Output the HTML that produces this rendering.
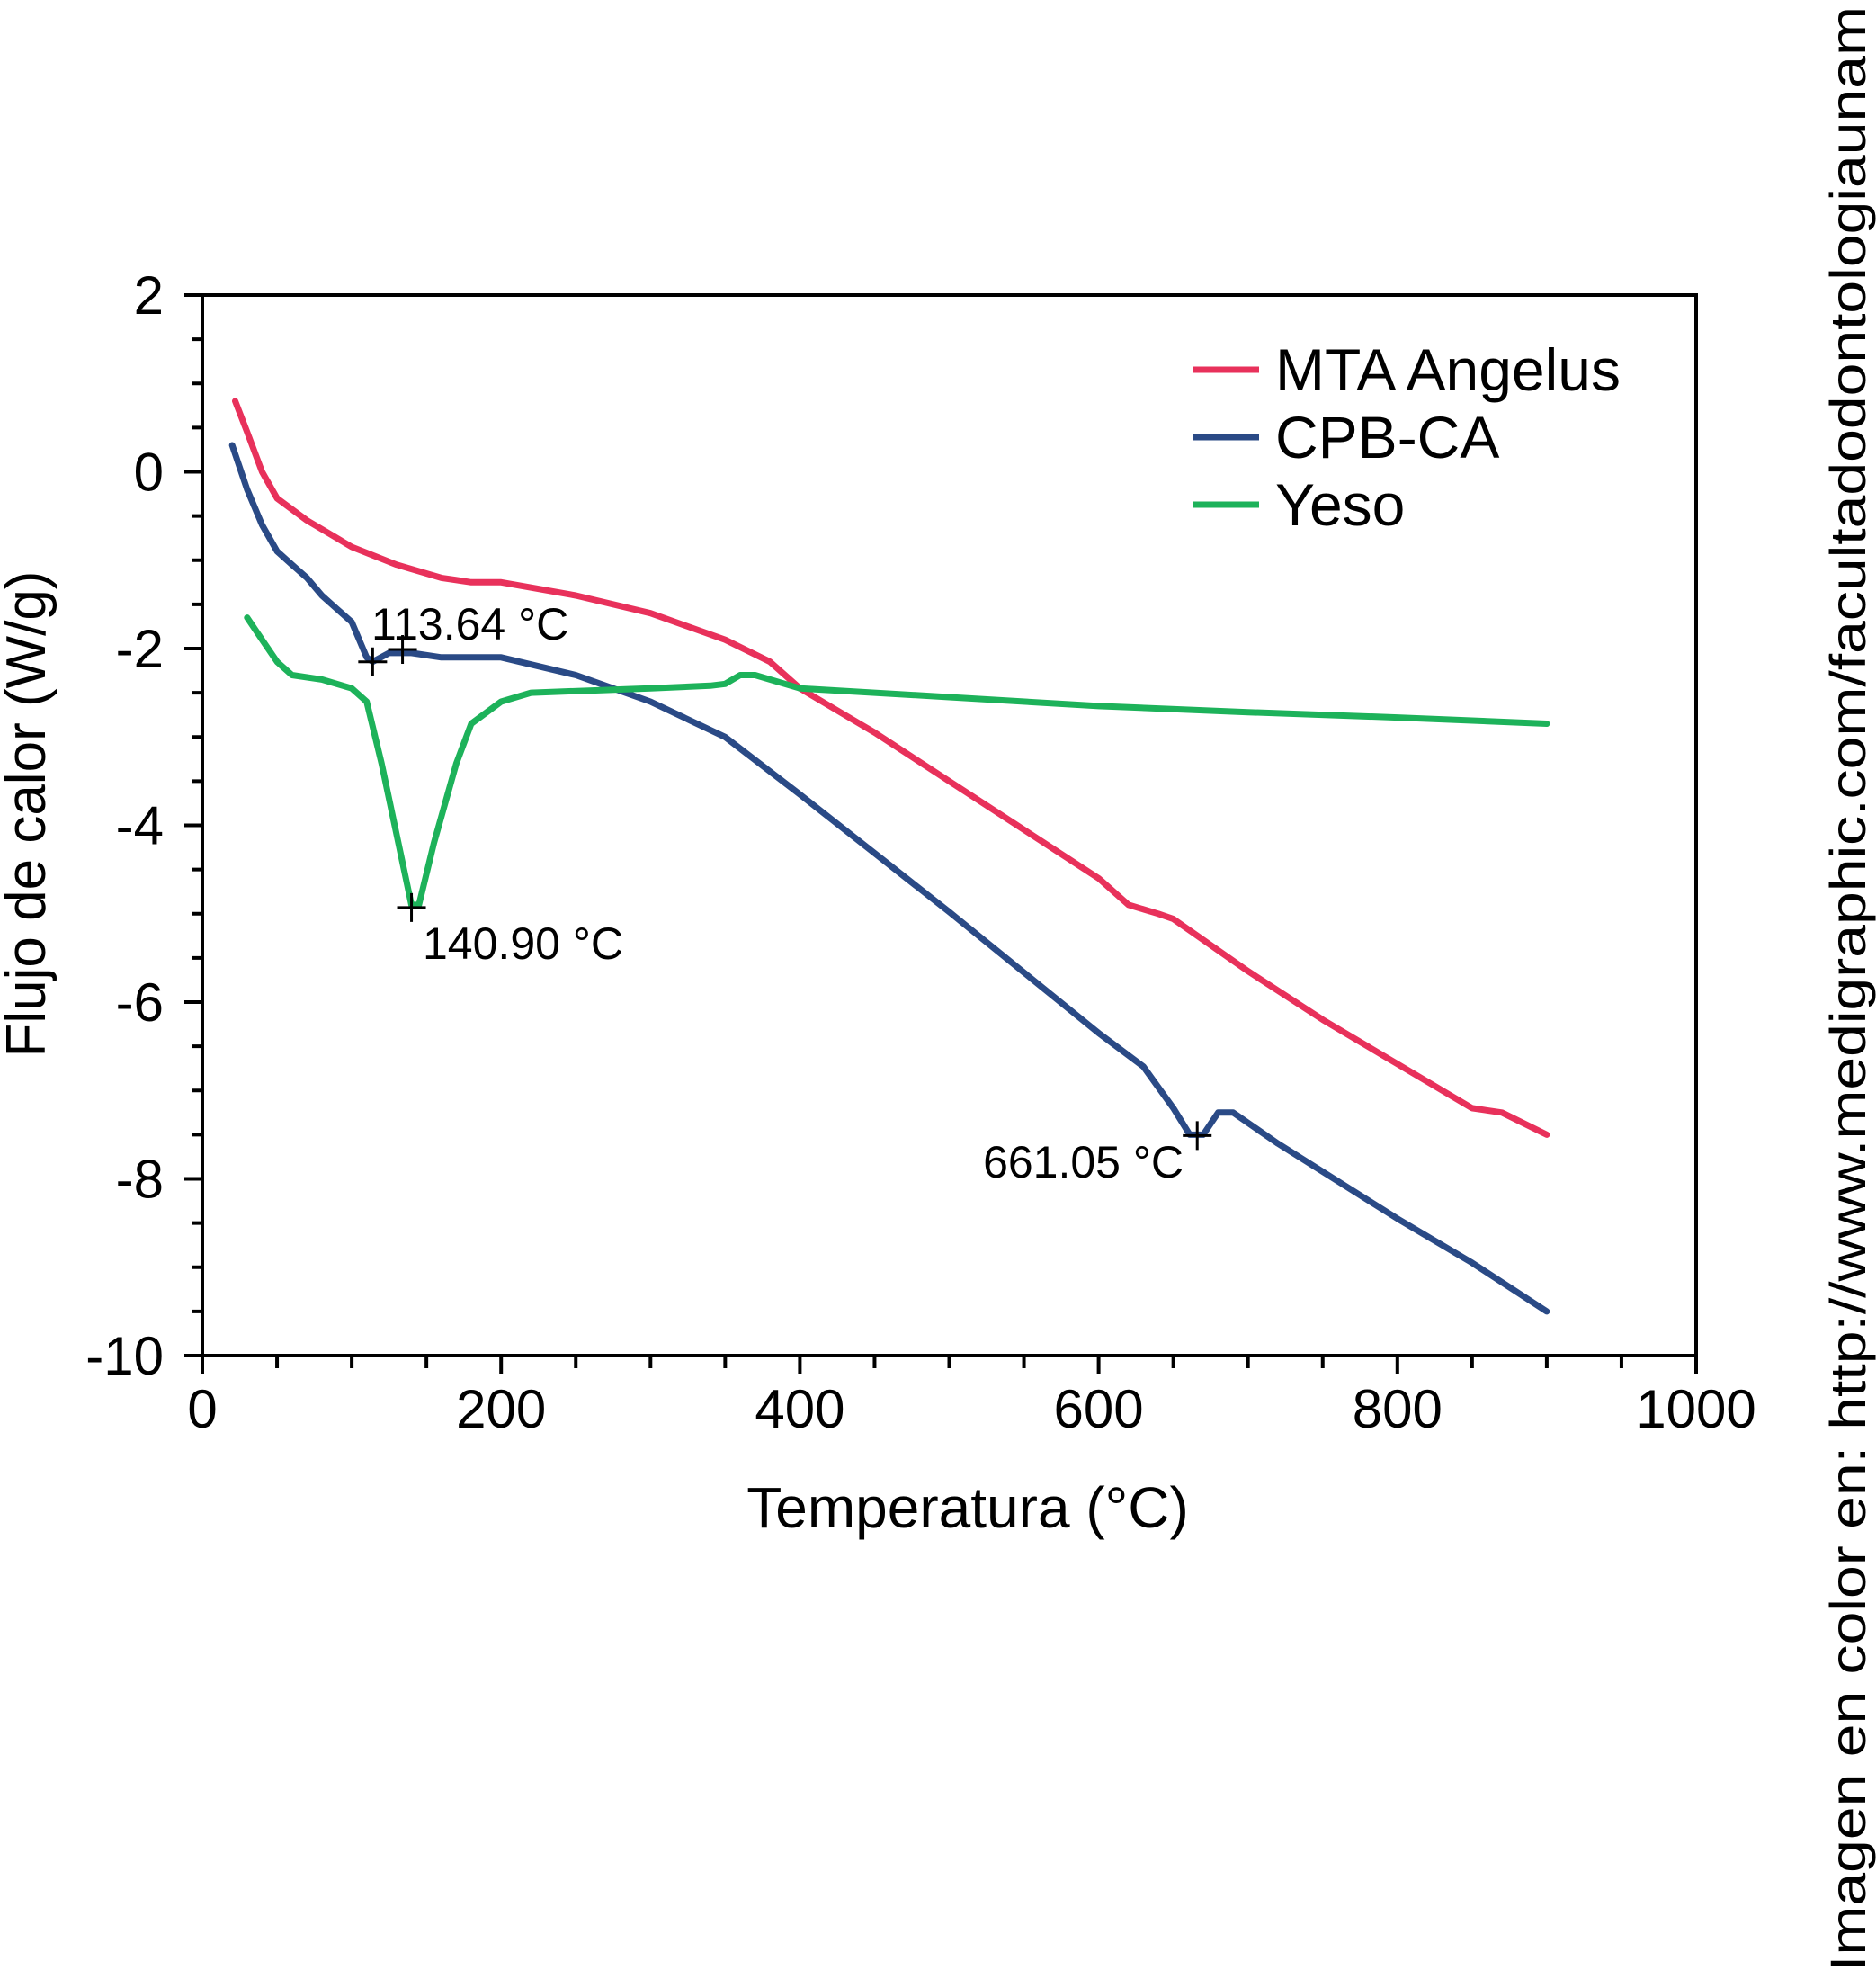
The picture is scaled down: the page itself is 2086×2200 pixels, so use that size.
<!DOCTYPE html>
<html><head><meta charset="utf-8"><style>html,body{margin:0;padding:0;background:#fff}svg{display:block}</style></head>
<body>
<svg id="chart" width="2086" height="2200" viewBox="0 0 2086 2200" xmlns="http://www.w3.org/2000/svg" font-family="Liberation Sans, Arial, sans-serif">
<g id="axes"></g>
<g id="series"></g>
<g id="legend"></g>
<text x="1076" y="1698" font-size="64" text-anchor="middle">Temperatura (°C)</text>
<text transform="translate(50,905) rotate(-90)" font-size="62" text-anchor="middle">Flujo de calor (W/g)</text>
<text x="413" y="711" font-size="50">113.64 °C</text>
<text x="470" y="1066" font-size="50">140.90 °C</text>
<text x="1316" y="1309" font-size="50" text-anchor="end">661.05 °C</text>
<text transform="translate(2074,2192) rotate(-90)" font-size="56" textLength="2185" lengthAdjust="spacingAndGlyphs">Imagen en color en: http://www.medigraphic.com/facultadodontologiaunam</text>
</svg>
<script>
const xTicks=[0,200,400,600,800,1000];
const yTicks=[2,0,-2,-4,-6,-8,-10];
const seriesNames=["MTA Angelus","CPB-CA","Yeso"];
const seriesColors=["#e8315b","#2a4a86","#1db25a"];
const mtaX=[22,30,40,50,70,100,130,160,180,200,250,300,350,380,400,440,450,500,600,620,640,650,700,750,800,850,870,900];
const mtaY=[0.8,0.45,0.0,-0.3,-0.55,-0.85,-1.05,-1.2,-1.25,-1.25,-1.4,-1.6,-1.9,-2.15,-2.45,-2.85,-2.95,-3.5,-4.6,-4.9,-5.0,-5.06,-5.65,-6.2,-6.7,-7.2,-7.25,-7.5];
const cpbX=[20,30,40,50,60,70,80,90,100,110,114,125,140,160,200,250,300,350,400,500,600,630,650,661,670,680,690,720,800,850,900];
const cpbY=[0.3,-0.2,-0.6,-0.9,-1.05,-1.2,-1.4,-1.55,-1.7,-2.1,-2.15,-2.05,-2.05,-2.1,-2.1,-2.3,-2.6,-3.0,-3.65,-4.98,-6.35,-6.73,-7.2,-7.5,-7.5,-7.25,-7.25,-7.6,-8.45,-8.95,-9.5];
const yesoX=[30,40,50,60,80,100,110,120,130,140,145,155,170,180,200,220,300,340,350,360,370,400,500,600,700,800,900];
const yesoY=[-1.65,-1.9,-2.15,-2.3,-2.35,-2.45,-2.6,-3.3,-4.1,-4.9,-4.9,-4.2,-3.3,-2.85,-2.6,-2.5,-2.45,-2.42,-2.4,-2.3,-2.3,-2.45,-2.55,-2.65,-2.72,-2.78,-2.85];
const markX=[114,134,140,666];
const markY=[-2.15,-2.01,-4.93,-7.51];

const L=225,R=1886,T=328,B=1507;
const sx=v=>L+(v-0)/1000*(R-L);
const sy=v=>T+(2-v)/12*(B-T);
const NS="http://www.w3.org/2000/svg";
function mk(tag,attrs,parent){const e=document.createElementNS(NS,tag);for(const k in attrs)e.setAttribute(k,attrs[k]);parent.appendChild(e);return e;}
const axes=document.getElementById('axes');
let frame=mk('rect',{x:L,y:T,width:R-L,height:B-T,fill:'none',stroke:'#000','stroke-width':4},axes);


for(let v=0;v<=1000;v+=50){const major=v%200===0;
 const t=mk('line',{x1:sx(v),x2:sx(v),y1:B,y2:B+(major?20:14),stroke:'#000','stroke-width':4},axes);
 
 }
for(let v=-10;v<=2;v+=0.5){const major=Math.abs(v%2)<1e-9;
 const t=mk('line',{x1:L,x2:L-(major?20:12),y1:sy(v),y2:sy(v),stroke:'#000','stroke-width':4},axes);
 
 }
xTicks.forEach(v=>{const t=mk('text',{x:sx(v),y:1587,'font-size':60,'text-anchor':'middle'},axes);t.textContent=v;
 
 });
yTicks.forEach(v=>{const t=mk('text',{x:182,y:sy(v)+21,'font-size':60,'text-anchor':'end'},axes);t.textContent=v;
 
 });
const sg=document.getElementById('series');
const data=[[mtaX,mtaY],[cpbX,cpbY],[yesoX,yesoY]];
const snames=['line-mta-angelus','line-cpb-ca','line-yeso'];
data.forEach((d,i)=>{const pts=d[0].map((x,j)=>sx(x).toFixed(1)+','+sy(d[1][j]).toFixed(1)).join(' ');
 const p=mk('polyline',{points:pts,fill:'none',stroke:seriesColors[i],'stroke-width':7,'stroke-linejoin':'round','stroke-linecap':'round'},sg);
 
 });
markX.forEach((x,i)=>{const cx=sx(x),cy=sy(markY[i]);
 const g=mk('path',{d:`M${cx-16},${cy}H${cx+16}M${cx},${cy-16}V${cy+16}`,stroke:'#000','stroke-width':3},sg);
 
 });
const lg=document.getElementById('legend');
seriesNames.forEach((n,i)=>{const y=411+i*75;
 const l=mk('line',{x1:1326,x2:1400,y1:y,y2:y,stroke:seriesColors[i],'stroke-width':7},lg);
 
 
 const t=mk('text',{x:1418,y:y+23,'font-size':66},lg);t.textContent=n;
 
 });
</script>
</body></html>
